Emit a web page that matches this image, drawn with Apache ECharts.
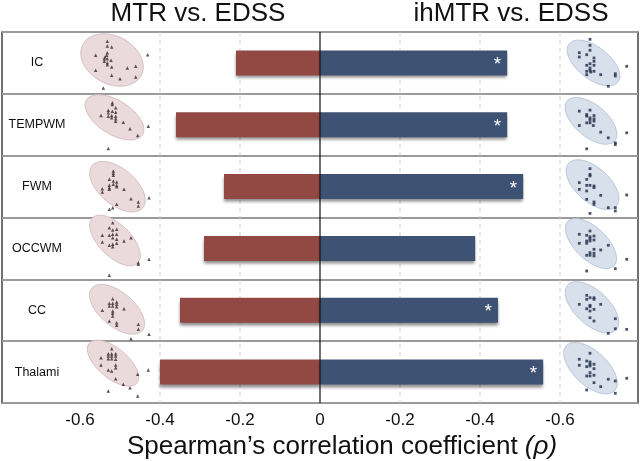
<!DOCTYPE html>
<html><head><meta charset="utf-8">
<script src="https://cdn.jsdelivr.net/npm/echarts@6/dist/echarts.min.js"></script>
<style>html,body{margin:0;padding:0;background:#fff}#c{width:640px;height:461px}</style>
</head><body><div id="c"></div>
<script>
// ---- data ----
const categories = ['IC','TEMPWM','FWM','OCCWM','CC','Thalami'];
const mtrRho   = [-0.21, -0.36, -0.24, -0.29, -0.35, -0.40];
const ihmtrRho = [-0.468, -0.468, -0.508, -0.388, -0.445, -0.558];
const ihmtrSig = [1, 1, 1, 0, 1, 1];
const tickValues = [-0.6, -0.4, -0.2, 0, 0.2, 0.4, 0.6];
const gridValues = [-0.4, -0.2, 0.2, 0.4, 0.6];
const titles = ['MTR vs. EDSS', 'ihMTR vs. EDSS'];
const axisTitle = 'Spearman\u2019s correlation coefficient ';
const axisSymbol = '(\u03C1)';

// inset scatter points (x, y inside an 80x60 inset, y downward)
const mtrScatterIC = [[29.3,8.3],[29.3,13],[33.7,14],[17.7,22.3],[29.3,19.7],[28.7,22.3],[27,24],[26.3,25.7],[29.3,25.7],[26.3,28.3],[33,27.3],[29.3,31.7],[33.7,34],[17.7,37.3],[49.3,35],[57.7,33.3],[33.7,42.3],[42,45.7],[57.7,44],[69.7,21.7],[25.3,55],[29.3,29.7]];
const mtrScatterTEMPWM = [[34.3,8],[34.3,9.7],[30.3,15.3],[34.3,16.3],[37.7,13],[37.7,17.3],[30.3,18],[23,20.7],[30.3,21.3],[33.7,20.7],[37.7,21.3],[33.7,23],[37.7,24],[37.7,26.3],[45.3,27.3],[52,34],[59.7,40.7],[70.3,31.3],[30.3,53.7]];
const mtrScatterFWM = [[35.3,14.3],[35.3,16.7],[35.3,18.7],[31.3,22.7],[35.3,24.3],[38.7,25.3],[31.3,28.7],[35.3,27.7],[38.7,28.7],[38.7,30],[31.3,31],[24.3,32],[31.3,32.7],[24.3,35.3],[46,32.7],[53,42],[60.3,45.3],[60.3,49.3],[71,41],[38.7,47.7],[34.7,51],[31.3,52.7]];
const mtrScatterOCCWM = [[34.7,4.2],[31.3,9.2],[34.7,11.5],[38.7,10.8],[24.3,16.8],[31.3,16.8],[34.7,15.8],[38.7,15.8],[34.7,19.2],[38.7,20.8],[24.3,23.5],[31.3,26.8],[34.7,25.8],[38.7,24.8],[34.7,28.2],[46,22.5],[53,19.2],[60.3,44.2],[60.3,45.8],[71,40.8],[31.3,56.8]];
const mtrScatterCC = [[34.7,18.4],[31.3,23],[34.7,23],[38.7,21.7],[38.7,24],[31.3,25.7],[34.7,25.7],[38.7,26.4],[24.3,30],[34.7,30.7],[34.7,33],[46,28.4],[34.7,35.7],[31.3,40.7],[38.7,42.4],[38.7,45],[60.3,44],[60.3,49],[71,54],[53,58.4]];
const mtrScatterThalami = [[33.7,6.5],[30.3,11.5],[33.7,11.5],[37.7,11.5],[30.3,13.8],[33.7,13.8],[37.7,13.8],[30.3,16.5],[33.7,16.5],[37.7,17.1],[23,15.5],[23,22.8],[37.7,22.8],[37.7,25.5],[30.3,27.8],[33.7,28.8],[37.7,36.5],[45.3,42.1],[52,45.5],[59.7,32.1],[70.3,27.8],[30.3,48.8],[59.7,53.8]];

const ihmtrScatterIC = [[34,6.3],[34,12.3],[23.3,19.7],[30.7,21.7],[34,17.3],[23.3,24],[38,25],[38,28.3],[30.7,32.3],[34,30.7],[38,32.3],[34,35],[30.7,38.3],[34,37.3],[38,38.3],[30.7,41.7],[34.7,39],[44.7,41.7],[59.3,40.7],[59.3,43],[70.7,33.3],[52.3,53.3]];
const ihmtrScatterTEMPWM = [[34,15.3],[30.7,19.7],[30.7,21.3],[38,20.7],[23.3,16.3],[34,23],[38,24],[34,25.3],[38,26.3],[30.7,28],[34,28],[23.3,30.7],[37.3,30.7],[44.7,37.3],[52.3,43],[59.3,48],[59.3,49.7],[70.7,38],[30.7,54]];
const ihmtrScatterFWM = [[34,12],[34,17.7],[34,19.3],[30.7,22.7],[23.3,26],[30.7,28.7],[34,28.7],[38,29.3],[38,31],[23.3,32.7],[30.7,34.3],[44.7,38.7],[30.7,42.7],[38,45.3],[38,47.7],[52.3,51],[59.3,51],[59.3,54.3],[70.7,38.3],[34,56.7]];
const ihmtrScatterOCCWM = [[34,12.5],[23.3,15.8],[30.7,16.8],[34,18.2],[38,17.5],[34,20.2],[38,21.5],[30.7,22.5],[34,22.5],[23.3,24.8],[30.7,24.8],[52.3,26.8],[44.7,31.5],[38,30.8],[34,34.2],[30.7,36.8],[34,36.8],[38,37.5],[38,34.8],[59.3,50.2],[70.7,40.8],[30.7,52.5]];
const ihmtrScatterCC = [[30.7,15],[34,17.4],[38,17.4],[30.7,19],[38,19],[23.3,24],[34,25],[44.7,24],[30.7,28.4],[34,26.4],[38,29],[34,30.7],[34,37.4],[38,40.7],[59.3,38.4],[59.3,48.4],[52.3,53],[70.7,49]];
const ihmtrScatterThalami = [[34,11.1],[30.7,18.8],[34,19.8],[23.3,17.1],[34,22.1],[38,22.1],[23.3,23.1],[30.7,24.5],[34,23.8],[38,26.5],[34,30.5],[30.7,33.8],[34,33.8],[38,33.1],[38,40.5],[44.7,44.5],[52.3,37.1],[59.3,38.8],[70.7,36.1],[30.7,47.8],[59.3,51.1]];

// confidence ellipses: [cx, cy, rx, ry, angleDeg]
const mtrEllipses = [[34,27,33,24,28],[36.5,22.5,33,17,32],[39.5,30,33,18,40],[37,22,32,16,45],[39,29,33,17,40],[35,21,31,15,40]];
const ihmtrEllipses = [[37.5,30,31,16,38],[35,26,31,16,40],[36.5,28,32,17,42],[35,25,32,16,44],[36,27,33,17,43],[34.5,26,33,17,43]];

const mtrScatter = [mtrScatterIC, mtrScatterTEMPWM, mtrScatterFWM, mtrScatterOCCWM, mtrScatterCC, mtrScatterThalami];
const ihmtrScatter = [ihmtrScatterIC, ihmtrScatterTEMPWM, ihmtrScatterFWM, ihmtrScatterOCCWM, ihmtrScatterCC, ihmtrScatterThalami];

// ---- layout ----
const FONT = 'Liberation Sans, Arial, Helvetica, sans-serif';
const G = {left: 2, right: 2, top: 32, bottom: 58};
const plotH = 461 - G.top - G.bottom;
const rowH = plotH / categories.length;
const INSET_W = 80, INSET_H = 60;
const leftInsetX = 78, rightInsetX = 556;

const grids = [{left: G.left, right: G.right, top: G.top, bottom: G.bottom, outerBoundsMode: 'none', containLabel: false,
  show: true, borderColor: '#444', borderWidth: 1.5, backgroundColor: 'transparent'}];
const xAxes = [{
  type: 'value', min: -0.795, max: 0.795, gridIndex: 0,
  axisLine: {show: false}, axisTick: {show: false}, splitLine: {show: false},
  axisLabel: {customValues: tickValues, fontSize: 17, color: '#111', fontFamily: FONT, margin: 9,
    formatter: v => Math.abs(v) < 1e-9 ? '0' : '-' + Math.abs(v).toFixed(1)},
  name: axisTitle + '{i|' + axisSymbol + '}', nameLocation: 'middle', nameGap: 23,
  nameTextStyle: {fontSize: 26, color: '#111', fontFamily: FONT, padding: [0, 0, 0, 44],
    rich: {i: {fontSize: 26, fontStyle: 'italic', color: '#111', fontFamily: FONT}}}
}];
const yAxes = [{
  type: 'category', data: categories, inverse: true, gridIndex: 0,
  axisLine: {show: false, onZero: false}, axisTick: {show: false},
  splitLine: {show: true, lineStyle: {color: '#9a9a9a', width: 2}},
  axisLabel: {inside: true, margin: 35, align: 'center', fontSize: 12.5, color: '#111', fontFamily: FONT, padding: [4, 0, 0, 0]}
}];

function vLineRender(color, dash, width) {
  return function (params, api) {
    const cs = params.coordSys;
    const p = api.coord([api.value(0), 0]);
    return {type: 'line', shape: {x1: p[0], y1: cs.y, x2: p[0], y2: cs.y + cs.height},
      style: {stroke: color, lineWidth: width, lineDash: dash}};
  };
}

const series = [
  { // dashed grid lines
    type: 'custom', xAxisIndex: 0, yAxisIndex: 0, z: 1, silent: true,
    data: gridValues.map(v => [v, 0]), encode: {x: 0, y: 1},
    renderItem: vLineRender('#cfcfcf', [4, 4], 1)
  },
  {
    type: 'bar', name: 'MTR', xAxisIndex: 0, yAxisIndex: 0, data: mtrRho, barWidth: 25, barGap: '-100%', z: 3,
    itemStyle: {color: '#924843', shadowColor: 'rgba(0,0,0,0.45)', shadowBlur: 3, shadowOffsetY: 3}
  },
  {
    type: 'bar', name: 'ihMTR', xAxisIndex: 0, yAxisIndex: 0, data: ihmtrRho.map(v => -v), barWidth: 25, barGap: '-100%', z: 3,
    itemStyle: {color: '#3e5274', shadowColor: 'rgba(0,0,0,0.45)', shadowBlur: 3, shadowOffsetY: 3},
    label: {show: true, position: 'insideRight', distance: 6, offset: [0, 2], color: '#fff', fontSize: 19, fontFamily: FONT,
      formatter: p => ihmtrSig[p.dataIndex] ? '*' : ''}
  },
  { // zero line
    type: 'custom', xAxisIndex: 0, yAxisIndex: 0, z: 5, silent: true,
    data: [[0, 0]], encode: {x: 0, y: 1},
    renderItem: vLineRender('#111', null, 1.2)
  }
];

function ellipseRender(fill, stroke) {
  return function (params, api) {
    const cx = api.value(0), cy = api.value(1), rx = api.value(2), ry = api.value(3), a = api.value(4) * Math.PI / 180;
    const pts = [];
    for (let k = 0; k <= 90; k++) {
      const t = k / 90 * Math.PI * 2;
      const x = cx + rx * Math.cos(t) * Math.cos(a) - ry * Math.sin(t) * Math.sin(a);
      const y = cy + rx * Math.cos(t) * Math.sin(a) + ry * Math.sin(t) * Math.cos(a);
      pts.push(api.coord([x, y]));
    }
    return {type: 'polygon', shape: {points: pts}, style: {fill: fill, stroke: stroke, lineWidth: 0.8}};
  };
}

function addInset(x0, rowIdx, pts, ell, isLeft) {
  const gi = grids.length;
  grids.push({left: x0, top: G.top + rowIdx * rowH + 1, width: INSET_W, height: INSET_H, show: false, outerBoundsMode: 'none', containLabel: false});
  xAxes.push({type: 'value', gridIndex: gi, min: 0, max: INSET_W, show: false});
  yAxes.push({type: 'value', gridIndex: gi, min: 0, max: INSET_H, inverse: true, show: false});
  series.push({
    type: 'custom', xAxisIndex: gi, yAxisIndex: gi, z: 6, silent: true,
    data: [ell], encode: {x: 0, y: 1},
    renderItem: isLeft ? ellipseRender('#eadadc', '#cdb5b9') : ellipseRender('#d8e0eb', '#aebdd0')
  });
  series.push({
    type: 'scatter', xAxisIndex: gi, yAxisIndex: gi, z: 7, silent: true, data: pts,
    symbol: isLeft ? 'triangle' : 'rect', symbolSize: isLeft ? 3.5 : 2.8,
    itemStyle: {color: isLeft ? '#3b2b30' : '#1f2c4a'}
  });
}
for (let i = 0; i < categories.length; i++) {
  addInset(leftInsetX, i, mtrScatter[i], mtrEllipses[i], true);
  addInset(rightInsetX, i, ihmtrScatter[i], ihmtrEllipses[i], false);
}

const chart = echarts.init(document.getElementById('c'), null, {renderer: 'canvas'});
chart.setOption({
  animation: false,
  backgroundColor: '#fff',
  grid: grids, xAxis: xAxes, yAxis: yAxes, series: series,
  graphic: [
    {type: 'text', x: 198, y: 14, style: {text: titles[0], fontSize: 26, fontFamily: FONT, fill: '#111', align: 'center', verticalAlign: 'middle'}},
    {type: 'text', x: 511, y: 14, style: {text: titles[1], fontSize: 26, fontFamily: FONT, fill: '#111', align: 'center', verticalAlign: 'middle'}}
  ]
});
</script></body></html>
